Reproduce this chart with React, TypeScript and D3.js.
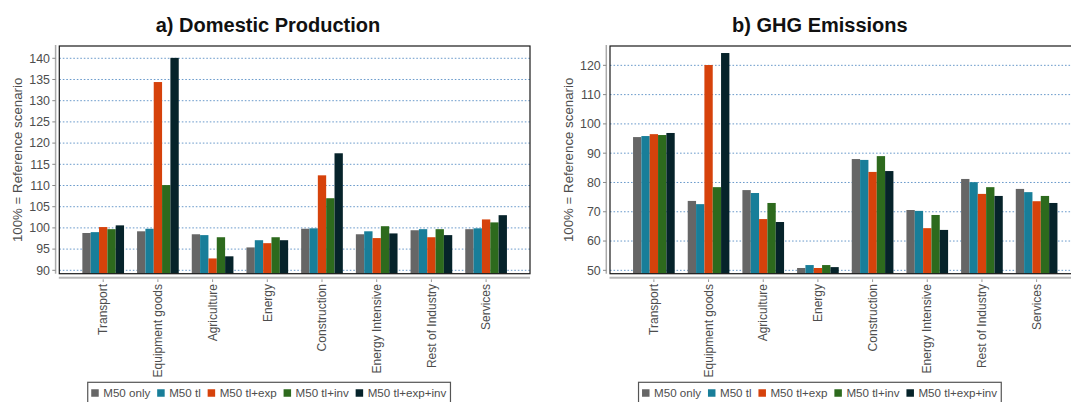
import React from "react";
import * as d3 from "d3";

const categories = [
  "Transport",
  "Equipment goods",
  "Agriculture",
  "Energy",
  "Construction",
  "Energy Intensive",
  "Rest of Industry",
  "Services",
];

const seriesNames = ["M50 only", "M50 tl", "M50 tl+exp", "M50 tl+inv", "M50 tl+exp+inv"];
const seriesColors = ["#666666", "#187e99", "#d6420b", "#2d6a1d", "#06232a"];

// a) Domestic Production (100% = reference)
const prodOnly = [98.8, 99.2, 98.5, 95.4, 99.8, 98.5, 99.45, 99.7];
const prodTl = [99.0, 99.8, 98.3, 97.1, 99.9, 99.2, 99.7, 99.9];
const prodTlExp = [100.2, 134.4, 92.8, 96.4, 112.4, 97.6, 97.8, 102.0];
const prodTlInv = [99.7, 110.1, 97.8, 97.8, 107.0, 100.4, 99.7, 101.3];
const prodTlExpInv = [100.6, 140.1, 93.3, 97.1, 117.6, 98.7, 98.3, 103.0];
const prodTicks = [90, 95, 100, 105, 110, 115, 120, 125, 130, 135, 140];

// b) GHG Emissions (100% = reference)
const ghgOnly = [95.5, 73.7, 77.4, 50.8, 88.0, 70.6, 81.2, 77.8];
const ghgTl = [95.85, 72.6, 76.4, 51.8, 87.7, 70.3, 80.1, 76.7];
const ghgTlExp = [96.5, 120.1, 67.5, 50.8, 83.6, 64.4, 76.1, 73.6];
const ghgTlInv = [96.2, 78.4, 73.0, 51.8, 89.0, 68.9, 78.4, 75.4];
const ghgTlExpInv = [96.9, 124.2, 66.5, 51.1, 83.9, 63.8, 75.4, 73.0];
const ghgTicks = [50, 60, 70, 80, 90, 100, 110, 120];

const FONT = "'Liberation Sans', Arial, Helvetica, sans-serif";

function measure(text: string, size: number): number {
  if (typeof document === "undefined") return text.length * size * 0.55;
  const c = document.createElement("canvas");
  const ctx = c.getContext("2d");
  if (!ctx) return text.length * size * 0.55;
  ctx.font = `${size}px 'Liberation Sans', Arial, sans-serif`;
  return ctx.measureText(text).width;
}

type PanelProps = {
  x0: number;
  x1: number;
  domain: [number, number];
  ticks: number[];
  data: number[][];
  title: string;
  titleX: number;
  legendCX: number;
};

function Panel({ x0, x1, domain, ticks, data, title, titleX, legendCX }: PanelProps) {
  const yTop = 46;
  const yBottom = 273.7;
  const y = d3.scaleLinear().domain(domain).range([yBottom, yTop]);
  const x = d3
    .scaleBand<string>()
    .domain(categories)
    .range([x0, x1])
    .paddingInner(0.238)
    .paddingOuter(0.4216);
  const xi = d3
    .scaleBand<string>()
    .domain(seriesNames)
    .range([0, x.bandwidth()])
    .padding(0);

  // legend layout
  const legFont = 11.6;
  const sq = 7.5;
  let cursor = 3.5;
  const items = seriesNames.map((s, i) => {
    const w = measure(s, legFont);
    const item = { s, i, sx: cursor, tx: cursor + sq + 4.5 };
    cursor = cursor + sq + 4.5 + w + 6.9;
    return item;
  });
  const legW = cursor - 6.9 + 4.2;
  const legX = legendCX - legW / 2;
  const legY = 382.3;

  return (
    <g fontFamily={FONT}>
      <text x={titleX} y={32} textAnchor="middle" fontSize={20} fontWeight="bold" fill="#111">
        {title}
      </text>

      {/* gridlines */}
      {ticks.map((t) => (
        <line
          key={"g" + t}
          x1={x0}
          x2={x1}
          y1={y(t)}
          y2={y(t)}
          stroke="#6a9acb"
          strokeWidth={1}
          strokeDasharray="1.6,1.9"
        />
      ))}

      {/* bars */}
      {categories.map((c, ci) => (
        <g key={c} transform={`translate(${x(c)},0)`}>
          {seriesNames.map((s, si) => {
            const v = data[si][ci];
            return (
              <rect
                key={s}
                x={xi(s)}
                y={y(v)}
                width={xi.bandwidth()}
                height={yBottom - y(v)}
                fill={seriesColors[si]}
              />
            );
          })}
        </g>
      ))}

      {/* plot box */}
      <rect x={x0} y={yTop} width={x1 - x0} height={yBottom - yTop} fill="none" stroke="#1a1a1a" strokeWidth={1.2} />

      {/* y axis */}
      <line x1={x0 - 3.7} x2={x0 - 3.7} y1={yTop - 1} y2={yBottom} stroke="#aaaaaa" strokeWidth={1.5} />
      {ticks.map((t) => (
        <g key={"t" + t}>
          <line x1={x0 - 7} x2={x0 - 3.7} y1={y(t)} y2={y(t)} stroke="#888" strokeWidth={1} />
          <text
            x={x0 - 9.3}
            y={y(t)}
            dy="0.35em"
            textAnchor="end"
            fontSize={12.4}
            fill="#4d4d4d"
          >
            {t}
          </text>
        </g>
      ))}
      <text
        transform={`translate(${x0 - 42},${(yTop + yBottom) / 2}) rotate(-90)`}
        textAnchor="middle"
        dy="0.35em"
        fontSize={13.3}
        fill="#4d4d4d"
      >
        100% = Reference scenario
      </text>

      {/* x axis */}
      <line x1={x0 - 0.5} x2={x1} y1={277.7} y2={277.7} stroke="#b8b8b8" strokeWidth={2} />
      {categories.map((c) => {
        const cx = (x(c) as number) + x.bandwidth() / 2;
        return (
          <g key={"x" + c}>
            <line x1={cx} x2={cx} y1={279.3} y2={282} stroke="#999" strokeWidth={1} />
            <text
              transform={`translate(${cx},284) rotate(-90)`}
              textAnchor="end"
              dy="0.35em"
              fontSize={12}
              fill="#4d4d4d"
            >
              {c}
            </text>
          </g>
        );
      })}

      {/* legend */}
      <rect x={legX} y={legY} width={legW} height={26} fill="#fff" stroke="#555" strokeWidth={1.2} />
      {items.map((it) => (
        <g key={"l" + it.s}>
          <rect
            x={legX + it.sx}
            y={393 - sq / 2}
            width={sq}
            height={sq}
            fill={seriesColors[it.i]}
          />
          <text x={legX + it.tx} y={393} dy="0.35em" fontSize={legFont} fill="#4d4d4d">
            {it.s}
          </text>
        </g>
      ))}
    </g>
  );
}

export default function App() {
  const prodData = [prodOnly, prodTl, prodTlExp, prodTlInv, prodTlExpInv];
  const ghgData = [ghgOnly, ghgTl, ghgTlExp, ghgTlInv, ghgTlExpInv];
  return (
    <svg
      width={1071}
      height={402}
      style={{ position: "absolute", left: 0, top: 0, background: "#fff", overflow: "hidden" }}
    >
      <rect x={0} y={0} width={1071} height={402} fill="#fff" />
      <Panel
        x0={59.3}
        x1={530}
        domain={[89.2, 142.9]}
        ticks={prodTicks}
        data={prodData}
        title="a) Domestic Production"
        titleX={268}
        legendCX={269.1}
      />
      <Panel
        x0={610}
        x1={1080.5}
        domain={[48.85, 126.6]}
        ticks={ghgTicks}
        data={ghgData}
        title="b) GHG Emissions"
        titleX={819.9}
        legendCX={819.9}
      />
    </svg>
  );
}
